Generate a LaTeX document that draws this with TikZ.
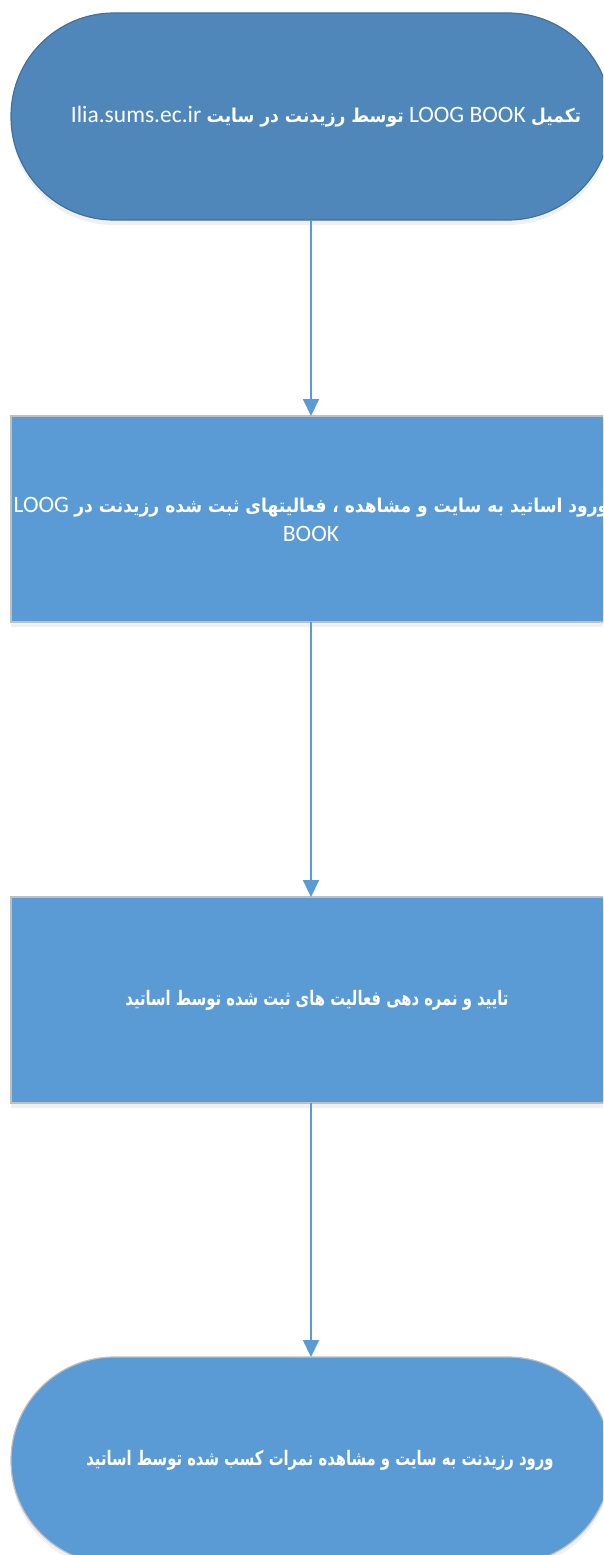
\documentclass[tikz,border=0pt]{standalone}
\usepackage{fontspec}
\setmainfont{Carlito}
\newfontfamily\arabicfont[Script=Arabic, FakeStretch=0.9]{DejaVu Sans}
\newfontfamily\arabicnarrow[Script=Arabic, FakeStretch=0.74]{DejaVu Sans}
\TeXXeTstate=1
\usetikzlibrary{arrows.meta, shadows}
\definecolor{flowblue}{HTML}{5B9BD5}
\definecolor{flowdark}{HTML}{4F87BA}
\definecolor{flowedge}{HTML}{41719C}
\definecolor{flowgrey}{HTML}{BFBFBF}
\newcommand{\fa}[1]{{\arabicfont\bfseries\fontsize{19}{28}\selectfont #1}}
\newcommand{\fan}[1]{{\arabicnarrow\bfseries\fontsize{20}{28}\selectfont #1}}
\newcommand{\en}[1]{\beginL{\normalfont #1}\endL{}}
% centred line, pushed right by half of #1
\newcommand{\pushline}[2]{\makebox[0pt]{\hspace*{#1}#2}}

\begin{document}
\begin{tikzpicture}[
        x=1pt, y=-1pt,
        proc/.style={draw=flowgrey, line width=1.2pt, fill=flowblue,
                     minimum width=600pt, minimum height=206pt,
                     inner sep=0pt, outer sep=0pt, text=white, align=center,
                     font=\fontsize{23.5}{29}\selectfont,
                     drop shadow={opacity=0.12, shadow xshift=0pt, shadow yshift=-5pt}},
        term/.style={proc, rounded corners=103pt, minimum height=207pt},
        arr/.style={-{Triangle[length=17pt, width=16pt]}, line width=2pt, flowblue}
      ]
        \useasboundingbox (0,0) rectangle (603,1555);
        \clip (0,0) rectangle (603,1555);

        \node[term, fill=flowdark, draw=flowedge] (start) at (311,116.5)
          {\pushline{30pt}{\beginR\fa{تکمیل} \en{LOOG BOOK} \fa{توسط رزیدنت در سایت} \en{Ilia.sums.ec.ir}\endR}};
        \node[proc] (view) at (311,519)
          {\pushline{0pt}{\beginR\fa{ورود اساتید به سایت و مشاهده ، فعالیتهای ثبت شده رزیدنت در} \en{LOOG}\endR}\\ \en{BOOK}};
        \node[proc] (grade) at (311,1000)
          {\pushline{12pt}{\beginR\fan{تایید و نمره دهی فعالیت های ثبت شده توسط اساتید}\endR}};
        \node[term] (result) at (311,1460.5)
          {\pushline{18pt}{\beginR\fan{ورود رزیدنت به سایت و مشاهده نمرات کسب شده توسط اساتید}\endR}};

        \draw[arr] (start) -- (view);
        \draw[arr] (view) -- (grade);
        \draw[arr] (grade) -- (result);
      \end{tikzpicture}
\end{document}
